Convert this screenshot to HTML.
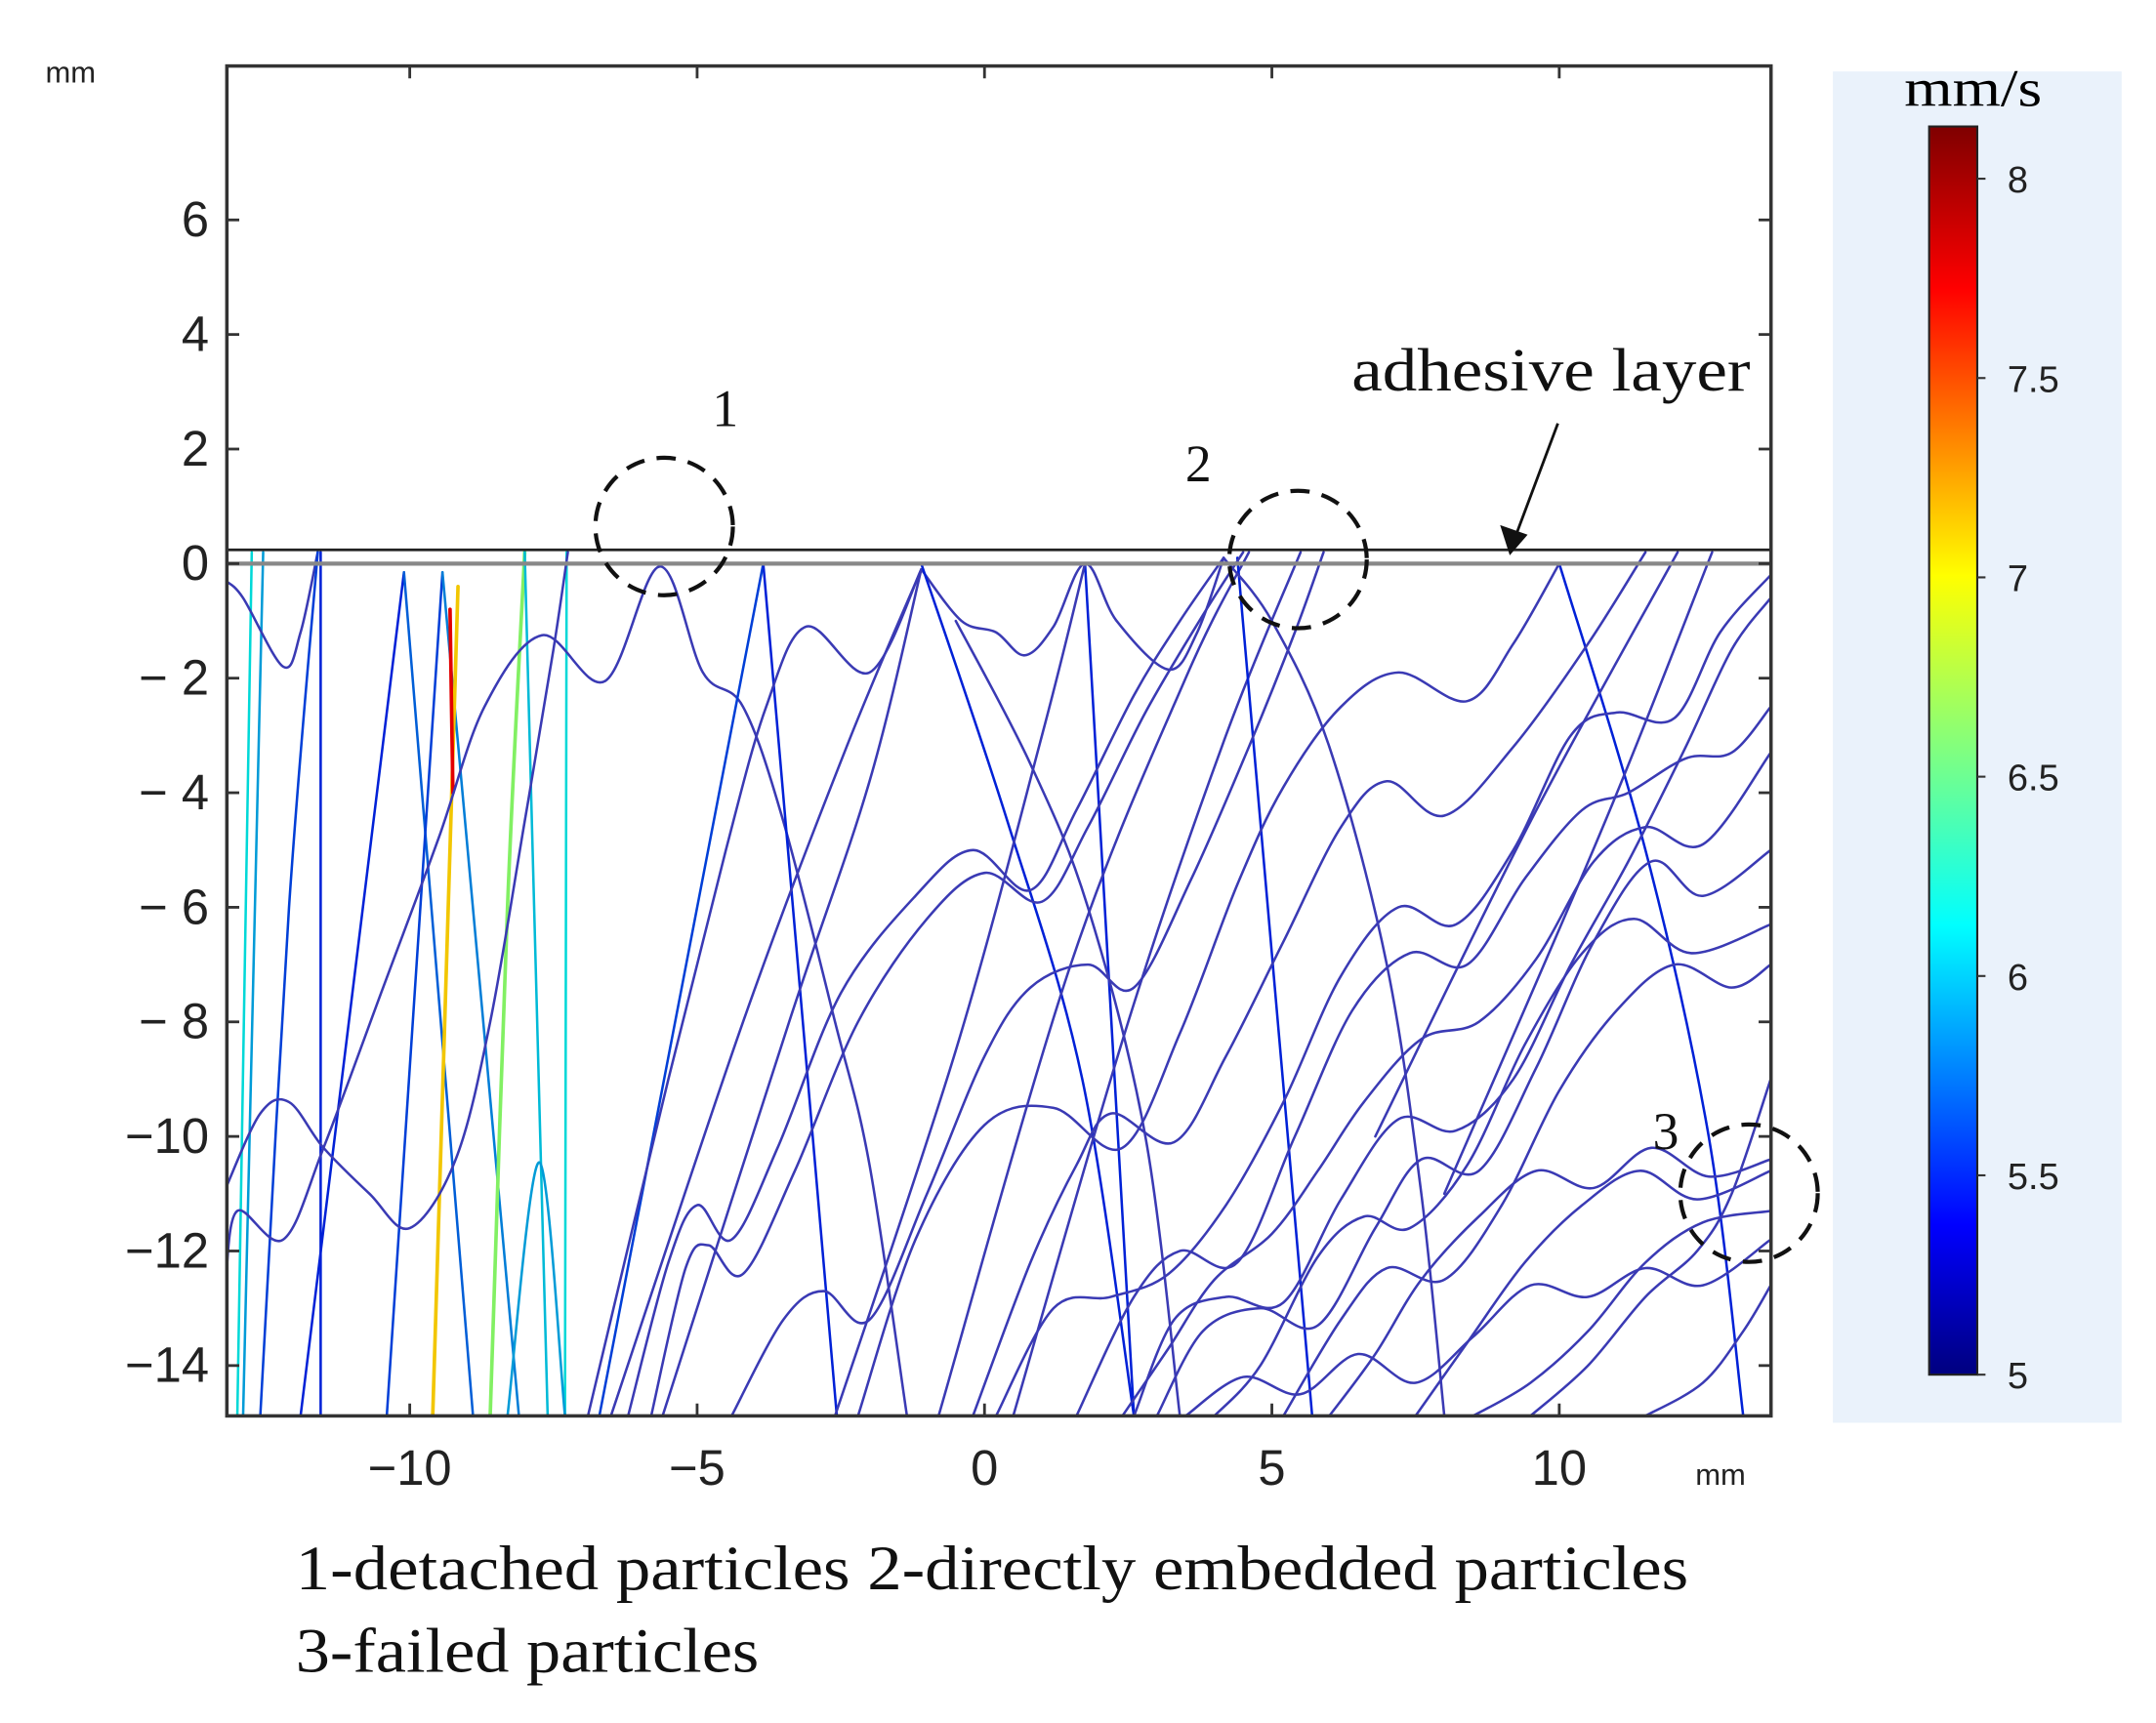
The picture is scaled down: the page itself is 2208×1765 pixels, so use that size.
<!DOCTYPE html>
<html><head><meta charset="utf-8"><style>
html,body{margin:0;padding:0;background:#fff;}
svg{display:block;}
</style></head><body>
<svg id="chart" width="2208" height="1765" viewBox="0 0 1568 1253.4" xmlns="http://www.w3.org/2000/svg" font-family="'Liberation Sans', sans-serif">
<defs>
<clipPath id="plotclip"><rect x="165" y="48" width="1123" height="982"/></clipPath>
<linearGradient id="jet" x1="0" y1="1" x2="0" y2="0">
<stop offset="0" stop-color="#00007f"/><stop offset="0.12" stop-color="#0000ff"/>
<stop offset="0.36" stop-color="#00ffff"/><stop offset="0.5" stop-color="#80ff80"/>
<stop offset="0.64" stop-color="#ffff00"/><stop offset="0.87" stop-color="#ff0000"/>
<stop offset="1" stop-color="#7f0000"/></linearGradient>
</defs>
<rect x="1333" y="52" width="210" height="983" fill="#eaf2fb"/>
<rect x="1403" y="92" width="35" height="908" fill="url(#jet)" stroke="#222" stroke-width="1.5"/>
<text x="1385" y="77" font-family="'Liberation Serif', serif" font-size="38" textLength="100" lengthAdjust="spacingAndGlyphs">mm/s</text>
<g id="cbticks" font-size="27" fill="#222"></g>
<g id="trajectories" clip-path="url(#plotclip)" fill="none" stroke-linecap="round"></g>
<line x1="165" y1="400" x2="1288" y2="400" stroke="#222" stroke-width="2"/>
<line x1="165" y1="410" x2="1288" y2="410" stroke="#888" stroke-width="3"/>
<rect x="165" y="48" width="1123" height="982" fill="none" stroke="#333" stroke-width="2.5"/>
<g id="axes" font-size="36" fill="#222"></g>
<text x="33" y="60" font-size="22" fill="#222">mm</text>
<text x="1233" y="1080" font-size="22" fill="#222">mm</text>
<g font-family="'Liberation Serif', serif" fill="#111">
<text x="983" y="284" font-size="44" textLength="290" lengthAdjust="spacingAndGlyphs">adhesive layer</text>
<text x="518" y="310" font-size="38">1</text>
<text x="862" y="350" font-size="38">2</text>
<text x="1202" y="836" font-size="38">3</text>
<text x="215" y="1156" font-size="46" textLength="1013" lengthAdjust="spacingAndGlyphs">1-detached particles 2-directly embedded particles</text>
<text x="215" y="1216" font-size="46" textLength="337" lengthAdjust="spacingAndGlyphs">3-failed particles</text>
</g>
<line x1="1133" y1="308" x2="1103" y2="388" stroke="#111" stroke-width="2"/>
<polygon points="1098,404 1091,382 1111,389" fill="#111"/>
<g fill="none" stroke="#111" stroke-width="3" stroke-dasharray="14 9">
<circle cx="483" cy="383" r="50"/>
<circle cx="944" cy="407" r="50"/>
<circle cx="1272" cy="868" r="50"/>
</g>
</svg>
<script>
const xTicks=[-10,-5,0,5,10];
const yTicks=[-14,-12,-10,-8,-6,-4,-2,0,2,4,6];
const cbTicks=[5,5.5,6,6.5,7,7.5,8];
const trajectories=[
[[-13.0,-14.88],[-12.75,0.2]],
[[-12.9,-14.88],[-12.55,0.2]],
[[-13.2,-0.3],[-12.9,-0.6],[-12.2,-1.8],[-11.9,-1.2],[-11.6,0.2]],
[[-12.6,-14.88],[-12.1,-6],[-11.6,0.2]],
[[-11.55,0.2],[-11.55,-14.88]],
[[-11.9,-14.88],[-10.1,-0.15]],
[[-10.1,-0.15],[-8.9,-14.88]],
[[-10.4,-14.88],[-9.43,-0.15]],
[[-9.43,-0.15],[-8.1,-14.88]],
[[-9.6,-14.88],[-9.16,-0.4]],
[[-9.3,-0.8],[-9.25,-4]],
[[-8.0,0.2],[-8.3,-6],[-8.6,-14.88]],
[[-7.27,0.2],[-7.3,-14.88]],
[[-8.0,0.2],[-7.6,-14.88]],
[[-8.3,-14.88],[-7.75,-10.45],[-7.3,-14.88]],
[[-13.2,-12.5],[-13.0,-11.3],[-12.2,-11.8],[-11.5,-10.2],[-10.5,-7.5],[-9.5,-4.8],[-8.7,-2.5],[-7.7,-1.25],[-6.6,-2.05],[-5.65,-0.05],[-4.9,-1.9],[-4.2,-2.5],[-3.5,-4.5],[-2.6,-8],[-2.0,-10.5],[-1.35,-14.88]],
[[-13.2,-10.9],[-12.6,-9.6],[-12.1,-9.4],[-11.5,-10.2],[-10.7,-11.0],[-10.0,-11.6],[-9.2,-10.4],[-8.6,-8],[-8.0,-4.5],[-7.5,-1.5],[-7.25,0.2]],
[[-6.7,-14.88],[-3.85,0]],
[[-3.85,0],[-2.57,-14.88]],
[[-6.9,-14.88],[-5.5,-9],[-4.5,-5],[-3.8,-2.5],[-3.1,-1.1],[-2.0,-1.9],[-1.1,-0.1]],
[[-6.5,-14.88],[-4.2,-8],[-2.4,-3.2],[-1.1,-0.1]],
[[-5.6,-14.88],[-3.4,-8],[-2.0,-3.8],[-1.1,-0.1]],
[[-1.1,-0.1],[-0.4,-1.0],[0.2,-1.2],[0.7,-1.6],[1.2,-1.1],[1.75,0],[2.3,-1.0],[3.2,-1.85],[3.7,-1.2],[4.16,0.1]],
[[-1.1,0],[0.4,-4.5],[1.7,-9],[2.6,-14.88]],
[[1.75,0],[2.6,-14.88]],
[[-0.5,-1.0],[0.8,-3.5],[1.8,-6],[2.8,-10],[3.4,-14.88]],
[[-2.6,-14.88],[-0.5,-8.5],[1.0,-3],[1.75,0]],
[[-0.8,-14.88],[1.5,-7],[3.5,-2],[4.6,0.2]],
[[0.5,-14.88],[2.5,-8],[4.2,-3],[5.5,0.2]],
[[4.4,0.1],[5.7,-14.88]],
[[4.16,0.1],[5.0,-1.0],[6.0,-3.2],[7.0,-7],[7.6,-11],[8.0,-14.88]],
[[10,0],[11.5,-5],[12.6,-10],[13.2,-14.88]],
[[6.8,-10],[9.5,-4.5],[12.06,0.2]],
[[8.0,-11],[10.8,-4.5],[12.66,0.2]],
[[-6.2,-14.88],[-5.5,-12.2],[-5.0,-11.2],[-4.4,-11.8],[-3.6,-10.2],[-2.5,-7.5],[-1.2,-5.8],[-0.2,-5.0],[0.8,-5.7],[1.6,-4.3],[2.6,-2.3],[3.4,-1.0],[4.16,0.1]],
[[-5.8,-14.88],[-5.2,-12.3],[-4.8,-11.9],[-4.2,-12.4],[-3.3,-10.6],[-2.2,-8],[-1.0,-6.2],[0,-5.4],[1.0,-5.9],[1.8,-4.6],[2.8,-2.6],[3.8,-0.9],[4.5,0.2]],
[[-4.4,-14.88],[-3.5,-13.2],[-2.8,-12.7],[-2.0,-13.2],[-1.0,-11],[0,-8.6],[0.8,-7.4],[1.8,-7.0],[2.6,-7.4],[3.6,-5.5],[4.6,-3.2],[5.4,-1.2],[5.9,0.2]],
[[-2.2,-14.88],[-1.2,-11.8],[0,-9.8],[1.2,-9.5],[2.4,-10.2],[3.4,-8.2],[4.4,-5.6],[5.2,-3.9],[6.2,-2.5],[7.2,-1.9],[8.4,-2.4],[9.2,-1.4],[10,0]],
[[-0.2,-14.88],[0.8,-12.2],[1.6,-10.5],[2.2,-9.6],[3.3,-10.1],[4.2,-8.6],[5.2,-6.6],[6.2,-4.6],[7.0,-3.8],[8.0,-4.4],[9.2,-3.2],[10.5,-1.4],[11.5,0.2]],
[[2.6,-14.88],[3.3,-13.2],[4.2,-12.8],[5.2,-12.9],[6.2,-11.1],[7.2,-9.7],[8.2,-9.9],[9.2,-9.0],[10.2,-7.0],[11.2,-5.2],[12.2,-3.2],[13.0,-1.5],[13.68,-0.6]],
[[3.0,-14.88],[3.8,-13.4],[4.8,-13.0],[5.8,-13.3],[6.8,-11.6],[7.6,-10.4],[8.6,-10.6],[9.6,-8.8],[10.6,-6.6],[11.6,-5.2],[12.5,-5.8],[13.68,-5.0]],
[[4.0,-14.88],[4.8,-14.0],[5.8,-12.1],[6.6,-11.4],[7.4,-11.6],[8.4,-10.5],[9.4,-8.4],[10.4,-6.8],[11.3,-6.2],[12.3,-6.8],[13.68,-6.3]],
[[6.0,-14.88],[6.8,-13.8],[7.6,-12.5],[8.6,-11.4],[9.6,-10.6],[10.6,-10.9],[11.6,-10.2],[12.6,-10.7],[13.68,-10.4]],
[[7.5,-14.88],[8.4,-13.6],[9.4,-12.2],[10.4,-11.2],[11.4,-10.6],[12.4,-11.1],[13.68,-10.6]],
[[9.5,-14.88],[10.5,-14.0],[11.5,-12.8],[12.4,-12.0],[13.0,-11.0],[13.68,-9.0]],
[[11.5,-14.88],[12.5,-14.3],[13.2,-13.4],[13.68,-12.6]],
[[2.4,-14.88],[3.2,-13.7],[4.0,-12.5],[5.0,-11.7],[5.8,-10.6],[6.6,-9.4],[7.6,-8.3],[8.6,-8.0],[9.6,-6.9],[10.6,-5.2],[11.5,-4.6],[12.5,-4.9],[13.68,-3.3]],
[[1.6,-14.88],[2.6,-12.8],[3.4,-12.0],[4.4,-12.2],[5.4,-10.0],[6.4,-7.8],[7.4,-6.8],[8.4,-7.0],[9.4,-5.5],[10.4,-4.3],[11.2,-4.0],[12.2,-3.4],[13.0,-3.3],[13.68,-2.5]],
[[5.2,-14.88],[6.2,-13.2],[7.0,-12.3],[8.0,-12.5],[9.0,-11.2],[10.0,-9.2],[11.0,-7.8],[12.0,-7.0],[13.0,-7.4],[13.68,-7.0]],
[[8.5,-14.88],[9.5,-14.3],[10.5,-13.4],[11.5,-12.2],[12.5,-11.5],[13.68,-11.3]],
[[0.2,-14.88],[1.2,-13.0],[2.2,-12.8],[3.2,-12.4],[4.2,-11.2],[5.2,-9.4],[6.2,-7.2],[7.2,-6.0],[8.2,-6.3],[9.2,-5.0],[10.2,-3.0],[11.0,-2.6],[12.0,-2.7],[12.8,-1.2],[13.68,-0.2]],
[[3.5,-14.88],[4.5,-14.2],[5.5,-14.5],[6.5,-13.8],[7.5,-14.3],[8.5,-13.5],[9.5,-12.6],[10.5,-12.8],[11.5,-12.3],[12.5,-12.6],[13.68,-11.8]],
[[12.3,-14.88],[12.8,-13.9],[13.68,-13.2]]
];
const speeds=[6.1,5.9,5.4,5.6,5.5,5.5,5.7,5.6,5.8,7.1,7.8,6.6,6.1,6.0,5.9,5.3,5.3,5.6,5.5,5.3,5.4,5.4,5.3,5.5,5.5,5.4,5.4,5.4,5.4,5.5,5.4,5.5,5.4,5.4,5.3,5.3,5.3,5.3,5.3,5.3,5.3,5.3,5.3,5.3,5.3,5.3,5.3,5.3,5.3,5.3,5.3,5.3];

const xS=v=>716+v*41.8;
const yS=v=>410-v*41.67;
const cbS=v=>1000-(v-5)*290;
function jet(v){
  const t=Math.max(0,Math.min(1,(v-5)/3.14));
  const r=Math.max(0,Math.min(1,1.5-Math.abs(4*t-3)));
  const g=Math.max(0,Math.min(1,1.5-Math.abs(4*t-2)));
  const b=Math.max(0,Math.min(1,1.5-Math.abs(4*t-1)));
  return `rgb(${Math.round(r*255*0.95)},${Math.round(g*240)},${Math.round(b*215)})`;
}
function pathD(pts){
  const p=pts.map(q=>[xS(q[0]),yS(q[1])]);
  let d=`M${p[0][0].toFixed(1)},${p[0][1].toFixed(1)}`;
  for(let i=0;i<p.length-1;i++){
    const p0=p[i-1]||p[i],p1=p[i],p2=p[i+1],p3=p[i+2]||p2;
    const c1=[p1[0]+(p2[0]-p0[0])/6,p1[1]+(p2[1]-p0[1])/6];
    const c2=[p2[0]-(p3[0]-p1[0])/6,p2[1]-(p3[1]-p1[1])/6];
    d+=`C${c1[0].toFixed(1)},${c1[1].toFixed(1)} ${c2[0].toFixed(1)},${c2[1].toFixed(1)} ${p2[0].toFixed(1)},${p2[1].toFixed(1)}`;
  }
  return d;
}
const NS='http://www.w3.org/2000/svg';
const tg=document.getElementById('trajectories');
trajectories.forEach((t,i)=>{
  const el=document.createElementNS(NS,'path');
  el.setAttribute('d',pathD(t));
  const v=speeds[i];
  el.setAttribute('stroke',v<5.45?'#3a3ab4':jet(v));
  el.setAttribute('stroke-width',v>6.3?'2.6':'1.8');
  
  
  tg.appendChild(el);
});
const ax=document.getElementById('axes');
function mk(tag,attrs,txt){const e=document.createElementNS(NS,tag);for(const k in attrs)e.setAttribute(k,attrs[k]);if(txt!==undefined)e.textContent=txt;return e;}
xTicks.forEach(v=>{
  const x=xS(v);
  const t1=mk('line',{x1:x,y1:1030,x2:x,y2:1021,stroke:'#333','stroke-width':2});
  
  
  ax.appendChild(t1);
  const t2=mk('line',{x1:x,y1:48,x2:x,y2:57,stroke:'#333','stroke-width':2});
  
  
  ax.appendChild(t2);
  const lb=mk('text',{x:x,y:1080,'text-anchor':'middle'},v<0?'\u2212'+Math.abs(v):String(v));
  
  
  ax.appendChild(lb);
});
yTicks.forEach(v=>{
  const y=yS(v);
  const t1=mk('line',{x1:165,y1:y,x2:174,y2:y,stroke:'#333','stroke-width':2});
  
  
  ax.appendChild(t1);
  const t2=mk('line',{x1:1288,y1:y,x2:1279,y2:y,stroke:'#333','stroke-width':2});
  
  
  ax.appendChild(t2);
  const s=v<0?(Math.abs(v)<10?'\u2212 '+Math.abs(v):'\u2212'+Math.abs(v)):String(v);
  const lb=mk('text',{x:152,y:y+12,'text-anchor':'end'},s);
  
  
  ax.appendChild(lb);
});
const cg=document.getElementById('cbticks');
cbTicks.forEach(v=>{
  const y=cbS(v);
  const t=mk('line',{x1:1438,y1:y,x2:1444,y2:y,stroke:'#333','stroke-width':1.5});
  
  
  cg.appendChild(t);
  const lb=mk('text',{x:1460,y:y+10},String(v));
  
  
  cg.appendChild(lb);
});
</script>
</body></html>
